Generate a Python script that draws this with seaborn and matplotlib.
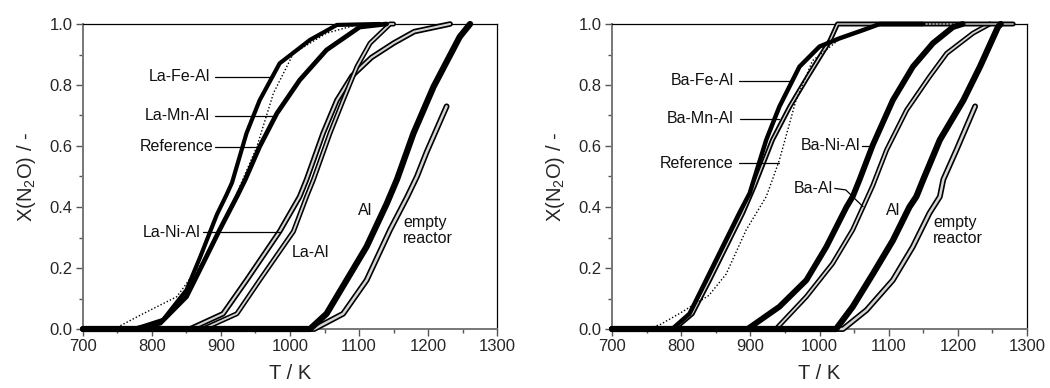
import numpy as np
import pandas as pd
import matplotlib
matplotlib.use("Agg")
import matplotlib.pyplot as plt
from matplotlib.ticker import MultipleLocator
import seaborn as sns

# ---------------- data ----------------
# Left panel (La series)
la_fe_T = [700, 775, 816, 850, 870, 894, 908, 916, 937, 956, 985, 1029, 1068, 1130]
la_fe_X = [0, 0, 0.03, 0.128, 0.237, 0.375, 0.44, 0.48, 0.642, 0.75, 0.871, 0.948, 0.997, 1.0]

la_mn_T = [700, 774, 812, 850, 874, 898, 923, 935, 956, 981, 1014, 1053, 1101, 1140]
la_mn_X = [0, 0, 0.019, 0.106, 0.215, 0.325, 0.434, 0.489, 0.598, 0.707, 0.816, 0.915, 0.99, 1.0]

ref_l_T = [700, 745, 787, 836, 873, 898, 921, 952, 976, 1005, 1053, 1101]
ref_l_X = [0, 0, 0.05, 0.106, 0.22, 0.33, 0.434, 0.598, 0.773, 0.904, 0.97, 1.0]

la_ni_T = [700, 855, 903, 937, 985, 1014, 1024, 1048, 1068, 1090, 1118, 1150, 1180, 1232]
la_ni_X = [0, 0, 0.05, 0.16, 0.32, 0.434, 0.49, 0.642, 0.75, 0.83, 0.89, 0.937, 0.975, 1.0]

la_al_T = [700, 874, 923, 956, 1005, 1024, 1034, 1058, 1077, 1097, 1116, 1145, 1150]
la_al_X = [0, 0, 0.05, 0.16, 0.32, 0.434, 0.49, 0.642, 0.75, 0.86, 0.937, 1.0, 1.0]

al_l_T = [700, 1029, 1053, 1082, 1111, 1140, 1155, 1179, 1208, 1246, 1261]
al_l_X = [0, 0, 0.05, 0.16, 0.27, 0.41, 0.49, 0.642, 0.794, 0.958, 1.0]

emp_l_T = [700, 1035, 1077, 1111, 1145, 1170, 1184, 1198, 1227]
emp_l_X = [0, 0, 0.05, 0.16, 0.325, 0.434, 0.50, 0.58, 0.73]

# Right panel (Ba series)
ba_fe_T = [700, 787, 812, 836, 860, 884, 899, 923, 942, 971, 1000, 1029, 1063, 1087, 1150]
ba_fe_X = [0, 0, 0.05, 0.16, 0.27, 0.38, 0.445, 0.62, 0.729, 0.86, 0.926, 0.953, 0.98, 1.0, 1.0]

ba_mn_T = [700, 790, 816, 841, 865, 889, 906, 932, 957, 981, 1000, 1015, 1026, 1280]
ba_mn_X = [0, 0, 0.05, 0.16, 0.27, 0.38, 0.47, 0.62, 0.729, 0.82, 0.89, 0.945, 1.0, 1.0]

ref_r_T = [700, 750, 770, 797, 840, 865, 894, 923, 932, 942, 966, 990, 1029, 1087, 1200]
ref_r_X = [0, 0, 0.015, 0.05, 0.11, 0.18, 0.325, 0.434, 0.49, 0.554, 0.75, 0.88, 0.95, 1.0, 1.0]

ba_ni_T = [700, 896, 942, 981, 1010, 1039, 1048, 1058, 1077, 1106, 1135, 1164, 1193, 1207]
ba_ni_X = [0, 0, 0.073, 0.16, 0.27, 0.40, 0.434, 0.49, 0.603, 0.75, 0.86, 0.937, 0.99, 1.0]

ba_al_T = [700, 937, 981, 1019, 1048, 1063, 1077, 1097, 1126, 1159, 1184, 1222, 1246]
ba_al_X = [0, 0, 0.106, 0.215, 0.325, 0.40, 0.47, 0.587, 0.718, 0.827, 0.904, 0.97, 1.0]

al_r_T = [700, 1024, 1048, 1077, 1106, 1130, 1140, 1150, 1174, 1208, 1232, 1258, 1262]
al_r_X = [0, 0, 0.073, 0.18, 0.29, 0.40, 0.434, 0.49, 0.62, 0.75, 0.86, 0.99, 1.0]

emp_r_T = [700, 1034, 1068, 1106, 1135, 1159, 1174, 1179, 1198, 1225]
emp_r_X = [0, 0, 0.062, 0.16, 0.27, 0.38, 0.434, 0.49, 0.587, 0.73]

x_ticks = [700, 800, 900, 1000, 1100, 1200, 1300]
y_ticks = [0.0, 0.2, 0.4, 0.6, 0.8, 1.0]

# ---------------- styling ----------------
sns.set_style("ticks")
plt.rcParams["font.family"] = ["Liberation Sans", "DejaVu Sans"]
plt.rcParams["mathtext.fontset"] = "custom"
plt.rcParams["mathtext.rm"] = "Liberation Sans"
plt.rcParams["mathtext.it"] = "Liberation Sans"
plt.rcParams["mathtext.default"] = "regular"

fig = plt.figure(figsize=(10.5, 3.88), dpi=100)
ax_l = fig.add_axes([83 / 1050, 1 - 329 / 388, (497 - 83) / 1050, (329 - 24) / 388])
ax_r = fig.add_axes([612 / 1050, 1 - 329 / 388, (1027 - 612) / 1050, (329 - 24) / 388])

CORE = "#d4d4d4"


def solid(ax, T, X, lw):
    sns.lineplot(x=T, y=X, ax=ax, color="black", lw=lw, estimator=None,
                 sort=False, clip_on=False, zorder=4)


def hollow(ax, T, X, lw_out, lw_in):
    sns.lineplot(x=T, y=X, ax=ax, color="black", lw=lw_out, estimator=None,
                 sort=False, clip_on=False, zorder=3)
    sns.lineplot(x=T, y=X, ax=ax, color=CORE, lw=lw_in, estimator=None,
                 sort=False, clip_on=False, zorder=3)


def dotted(ax, T, X):
    sns.lineplot(x=T, y=X, ax=ax, color="black", lw=1.0, linestyle=(0, (1, 1.5)),
                 estimator=None, sort=False, clip_on=False, zorder=5)


# left panel
hollow(ax_l, la_ni_T, la_ni_X, 4.0, 1.5)
hollow(ax_l, la_al_T, la_al_X, 3.6, 1.3)
hollow(ax_l, emp_l_T, emp_l_X, 4.2, 1.8)
solid(ax_l, la_fe_T, la_fe_X, 3.0)
solid(ax_l, la_mn_T, la_mn_X, 3.4)
solid(ax_l, al_l_T, al_l_X, 4.5)
dotted(ax_l, ref_l_T, ref_l_X)

# right panel
hollow(ax_r, ba_al_T, ba_al_X, 3.6, 1.3)
hollow(ax_r, emp_r_T, emp_r_X, 4.2, 1.8)
hollow(ax_r, ba_mn_T, ba_mn_X, 3.6, 1.0)
solid(ax_r, ba_fe_T, ba_fe_X, 3.2)
solid(ax_r, ba_ni_T, ba_ni_X, 4.2)
solid(ax_r, al_r_T, al_r_X, 4.5)
dotted(ax_r, ref_r_T, ref_r_X)

# annotations: (text, text x, text y, ha, leader line xs, leader line ys)
ann_left = [
    ("La-Fe-Al", 884, 0.827, "right", [891, 976], [0.827, 0.827]),
    ("La-Mn-Al", 884, 0.70, "right", [891, 979], [0.70, 0.70]),
    ("Reference", 889, 0.598, "right", [891, 952], [0.598, 0.598]),
    ("La-Ni-Al", 870, 0.317, "right", [874, 986], [0.317, 0.317]),
    ("La-Al", 1002, 0.25, "left", None, None),
    ("Al", 1109, 0.39, "center", None, None),
    ("empty\nreactor", 1164, 0.322, "left", None, None),
]
ann_right = [
    ("Ba-Fe-Al", 876, 0.814, "right", [884, 961], [0.814, 0.814]),
    ("Ba-Mn-Al", 876, 0.69, "right", [885, 942], [0.69, 0.69]),
    ("Reference", 875, 0.543, "right", [884, 941], [0.543, 0.543]),
    ("Ba-Ni-Al", 1059, 0.60, "right", [1061, 1077], [0.60, 0.60]),
    ("Ba-Al", 1020, 0.461, "right", [1022, 1038, 1063], [0.461, 0.456, 0.401]),
    ("Al", 1107, 0.388, "center", None, None),
    ("empty\nreactor", 1164, 0.322, "left", None, None),
]

for ax, anns in ((ax_l, ann_left), (ax_r, ann_right)):
    for txt, tx, ty, ha, lx, ly in anns:
        ax.text(tx, ty, txt, ha=ha, va="center", fontsize=11.5, color="#111111",
                linespacing=1.05, zorder=6)
        if lx is not None:
            ax.plot(lx, ly, color="black", lw=0.9, zorder=6)

    ax.set_xlim(700, 1300)
    ax.set_ylim(0, 1.0)
    ax.set_xticks(x_ticks)
    ax.set_yticks(y_ticks)
    ax.set_yticklabels([f"{v:.1f}" for v in y_ticks])
    ax.xaxis.set_minor_locator(MultipleLocator(50))
    ax.yaxis.set_minor_locator(MultipleLocator(0.1))
    ax.tick_params(which="major", direction="out", length=5, width=1.0,
                   color="#555555", labelsize=12, pad=2.5)
    ax.tick_params(which="minor", direction="out", length=3, width=1.0,
                   color="#555555")
    ax.tick_params(top=False, right=False, which="both")
    for s in ("left", "bottom"):
        ax.spines[s].set_color("#777777")
        ax.spines[s].set_linewidth(1.4)
    for s in ("top", "right"):
        ax.spines[s].set_visible(True)
        ax.spines[s].set_color("black")
        ax.spines[s].set_linewidth(0.9)
    ax.set_xlabel("T / K", fontsize=14.5, labelpad=7)
    ax.set_ylabel("X(N$_2$O) / -", fontsize=14.5, labelpad=8)

fig.savefig("out.png", dpi=100)
